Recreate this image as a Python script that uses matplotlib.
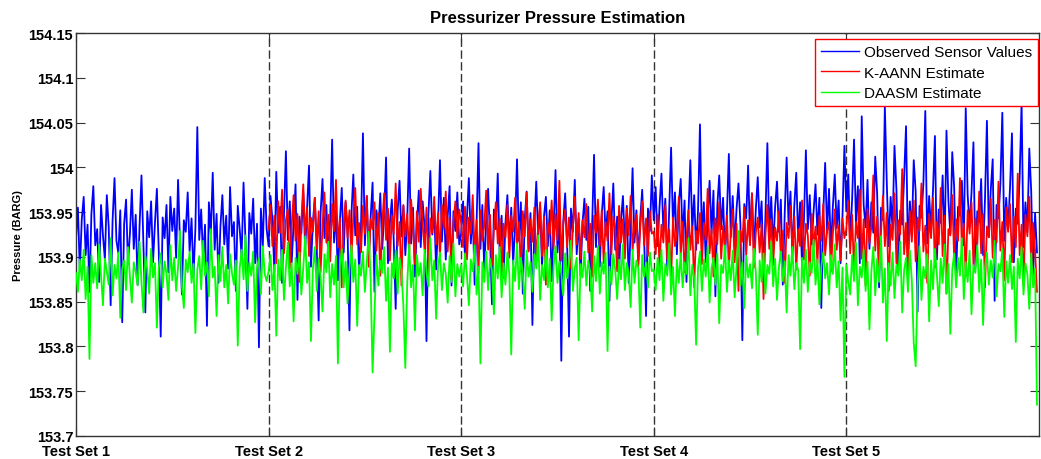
import numpy as np
import matplotlib
matplotlib.use("Agg")
import matplotlib.pyplot as plt

plt.rcParams['font.family'] = ['Liberation Sans', 'DejaVu Sans']

# pressure readings (BARG), 100 samples per test set
obs_set1 = [
    153.921, 153.955, 153.884, 153.942, 153.967, 153.902, 153.936, 153.861, 153.948, 153.979,
    153.913, 153.931, 153.872, 153.958, 153.924, 153.897, 153.969, 153.933, 153.846, 153.941,
    153.988, 153.918, 153.904, 153.952, 153.827, 153.937, 153.964, 153.892, 153.926, 153.975,
    153.909, 153.947, 153.869, 153.934, 153.991, 153.915, 153.838, 153.951, 153.922, 153.962,
    153.894, 153.938, 153.976, 153.905, 153.811, 153.944, 153.921, 153.958, 153.883, 153.967,
    153.929, 153.954, 153.899, 153.986, 153.917, 153.858, 153.941, 153.928, 153.972, 153.906,
    153.943, 153.878, 153.932, 154.045, 153.919, 153.953, 153.897, 153.936, 153.823, 153.961,
    153.925, 153.994, 153.908, 153.948, 153.871, 153.934, 153.969, 153.914, 153.946, 153.887,
    153.978, 153.923, 153.939, 153.862, 153.957, 153.931, 153.901, 153.983, 153.918, 153.842,
    153.949, 153.926, 153.965, 153.893, 153.937, 153.799, 153.954, 153.912, 153.988, 153.931]
obs_set2 = [
    153.912, 153.968, 153.941, 153.883, 153.995, 153.927, 153.956, 153.871, 153.948, 154.018,
    153.919, 153.962, 153.894, 153.937, 153.981, 153.852, 153.945, 153.926, 153.973, 153.908,
    153.954, 154.002, 153.889, 153.938, 153.966, 153.912, 153.829, 153.949, 153.987, 153.921,
    153.958, 153.897, 153.943, 154.031, 153.916, 153.952, 153.874, 153.939, 153.977, 153.905,
    153.961, 153.931, 153.818, 153.947, 153.992, 153.924, 153.956, 153.881, 153.935, 154.038,
    153.913, 153.968, 153.899, 153.944, 153.983, 153.861, 153.952, 153.928, 153.971, 153.909,
    153.946, 154.011, 153.893, 153.939, 153.964, 153.918, 153.842, 153.951, 153.985, 153.923,
    153.957, 153.902, 153.942, 154.021, 153.915, 153.955, 153.878, 153.936, 153.974, 153.911,
    153.962, 153.933, 153.806, 153.948, 153.996, 153.925, 153.953, 153.886, 153.938, 154.008,
    153.917, 153.966, 153.897, 153.945, 153.979, 153.868, 153.951, 153.929, 153.972, 153.914]
obs_set3 = [
    153.926, 153.962, 153.897, 153.944, 153.988, 153.915, 153.951, 153.869, 153.937, 154.027,
    153.909, 153.958, 153.884, 153.941, 153.976, 153.922, 153.847, 153.953, 153.931, 153.993,
    153.902, 153.946, 153.877, 153.938, 153.969, 153.914, 153.955, 153.892, 153.934, 154.009,
    153.918, 153.961, 153.859, 153.942, 153.973, 153.907, 153.949, 153.824, 153.936, 153.984,
    153.921, 153.957, 153.888, 153.945, 153.967, 153.912, 153.952, 153.873, 153.932, 153.997,
    153.905, 153.948, 153.784, 153.939, 153.971, 153.917, 153.811, 153.954, 153.928, 153.986,
    153.903, 153.943, 153.879, 153.937, 153.965, 153.919, 153.956, 153.862, 153.935, 154.014,
    153.911, 153.959, 153.889, 153.947, 153.978, 153.924, 153.951, 153.851, 153.938, 153.982,
    153.908, 153.945, 153.883, 153.941, 153.968, 153.913, 153.957, 153.871, 153.931, 153.999,
    153.916, 153.952, 153.896, 153.943, 153.975, 153.922, 153.834, 153.954, 153.929, 153.991]
obs_set4 = [
    153.941, 153.978, 153.912, 153.956, 153.993, 153.928, 153.965, 153.886, 153.951, 154.022,
    153.934, 153.972, 153.903, 153.958, 153.987, 153.921, 153.963, 153.872, 153.947, 154.008,
    153.929, 153.969, 153.908, 153.952, 154.048, 153.917, 153.961, 153.894, 153.944, 153.985,
    153.926, 153.974, 153.856, 153.957, 153.991, 153.931, 153.966, 153.898, 153.949, 154.015,
    153.922, 153.968, 153.911, 153.954, 153.982, 153.937, 153.807, 153.959, 153.943, 154.002,
    153.919, 153.971, 153.905, 153.953, 153.989, 153.933, 153.962, 153.881, 153.946, 154.027,
    153.924, 153.967, 153.909, 153.955, 153.984, 153.928, 153.964, 153.869, 153.948, 154.011,
    153.936, 153.973, 153.901, 153.958, 153.994, 153.918, 153.961, 153.889, 153.942, 154.019,
    153.931, 153.969, 153.914, 153.951, 153.981, 153.925, 153.966, 153.843, 153.947, 154.005,
    153.927, 153.976, 153.906, 153.956, 153.992, 153.932, 153.963, 153.893, 153.945, 154.024]
obs_set5 = [
    153.951, 153.992, 153.917, 153.964, 154.031, 153.938, 153.979, 153.893, 154.057, 153.958,
    153.933, 153.986, 153.909, 153.961, 153.927, 154.012, 153.971, 153.866, 153.955, 153.941,
    154.068, 153.983, 153.912, 153.967, 153.931, 154.024, 153.976, 153.884, 153.952, 153.936,
    153.989, 154.046, 153.904, 153.962, 153.924, 154.008, 153.973, 153.839, 153.957, 153.944,
    153.981, 154.063, 153.915, 153.968, 153.929, 153.974, 154.035, 153.897, 153.953, 153.938,
    153.991, 153.907, 154.041, 153.963, 153.926, 154.017, 153.977, 153.872, 153.956, 153.946,
    153.985, 153.913, 154.066, 153.969, 153.934, 153.972, 154.028, 153.889, 153.951, 153.939,
    153.987, 153.902, 153.965, 154.052, 153.922, 153.975, 154.009, 153.851, 153.958, 153.943,
    153.982, 154.061, 153.918, 153.966, 153.931, 153.978, 154.038, 153.894, 153.954, 153.937,
    153.989, 154.072, 153.911, 153.961, 153.928, 154.021, 153.973, 153.878, 153.949, 153.905]

# K-AANN estimate, test sets 2-5
kaann_set2 = [
    153.931, 153.958, 153.912, 153.946, 153.893, 153.962, 153.927, 153.975, 153.904, 153.941,
    153.953, 153.887, 153.936, 153.969, 153.918, 153.948, 153.872, 153.939, 153.981, 153.924,
    153.955, 153.901, 153.944, 153.928, 153.966, 153.909, 153.951, 153.883, 153.934, 153.972,
    153.916, 153.947, 153.895, 153.959, 153.929, 153.986, 153.911, 153.943, 153.866, 153.937,
    153.963, 153.921, 153.952, 153.898, 153.945, 153.977, 153.914, 153.938, 153.905, 153.957,
    153.926, 153.968, 153.889, 153.942, 153.931, 153.961, 153.907, 153.949, 153.879, 153.935,
    153.971, 153.919, 153.954, 153.896, 153.946, 153.925, 153.982, 153.912, 153.939, 153.868,
    153.958, 153.923, 153.948, 153.902, 153.964, 153.931, 153.892, 153.951, 153.917, 153.976,
    153.936, 153.908, 153.955, 153.884, 153.943, 153.927, 153.967, 153.914, 153.949, 153.899,
    153.958, 153.932, 153.973, 153.906, 153.944, 153.875, 153.938, 153.962, 153.921, 153.953]
kaann_set3 = [
    153.938, 153.911, 153.956, 153.897, 153.944, 153.926, 153.969, 153.903, 153.941, 153.882,
    153.952, 153.918, 153.935, 153.974, 153.908, 153.947, 153.891, 153.931, 153.961, 153.915,
    153.943, 153.876, 153.937, 153.921, 153.958, 153.899, 153.946, 153.928, 153.966, 153.912,
    153.939, 153.884, 153.951, 153.923, 153.972, 153.906, 153.942, 153.917, 153.955, 153.894,
    153.934, 153.961, 153.901, 153.945, 153.869, 153.938, 153.925, 153.963, 153.909, 153.948,
    153.919, 153.985, 153.896, 153.936, 153.953, 153.911, 153.944, 153.887, 153.932, 153.967,
    153.914, 153.949, 153.898, 153.941, 153.922, 153.959, 153.905, 153.937, 153.878, 153.946,
    153.927, 153.964, 153.912, 153.952, 153.893, 153.939, 153.918, 153.971, 153.903, 153.945,
    153.931, 153.884, 153.957, 153.916, 153.942, 153.898, 153.954, 153.924, 153.968, 153.907,
    153.936, 153.947, 153.889, 153.933, 153.962, 153.913, 153.943, 153.901, 153.951, 153.926]
kaann_set4 = [
    153.928, 153.903, 153.947, 153.889, 153.936, 153.916, 153.958, 153.897, 153.931, 153.874,
    153.944, 153.912, 153.925, 153.967, 153.901, 153.939, 153.883, 153.921, 153.952, 153.908,
    153.934, 153.866, 153.929, 153.915, 153.949, 153.892, 153.938, 153.919, 153.976, 153.904,
    153.931, 153.878, 153.943, 153.914, 153.961, 153.898, 153.935, 153.911, 153.946, 153.887,
    153.926, 153.953, 153.894, 153.937, 153.862, 153.929, 153.917, 153.955, 153.902, 153.941,
    153.913, 153.971, 153.888, 153.927, 153.944, 153.905, 153.936, 153.853, 153.924, 153.958,
    153.909, 153.942, 153.891, 153.933, 153.918, 153.951, 153.899, 153.929, 153.871, 153.938,
    153.921, 153.957, 153.906, 153.945, 153.886, 153.931, 153.912, 153.963, 153.897, 153.937,
    153.924, 153.879, 153.948, 153.911, 153.934, 153.893, 153.946, 153.918, 153.959, 153.902,
    153.929, 153.939, 153.884, 153.926, 153.953, 153.908, 153.935, 153.896, 153.943, 153.921]
kaann_set5 = [
    153.931, 153.962, 153.904, 153.947, 153.883, 153.939, 153.921, 153.975, 153.898, 153.942,
    153.868, 153.953, 153.915, 153.934, 153.991, 153.907, 153.945, 153.886, 153.927, 153.968,
    153.912, 153.949, 153.862, 153.936, 153.919, 153.971, 153.893, 153.941, 153.925, 153.998,
    153.903, 153.938, 153.876, 153.951, 153.917, 153.963, 153.895, 153.944, 153.929, 153.982,
    153.906, 153.935, 153.871, 153.948, 153.921, 153.966, 153.888, 153.939, 153.914, 153.977,
    153.901, 153.946, 153.859, 153.931, 153.924, 153.969, 153.897, 153.942, 153.918, 153.988,
    153.909, 153.937, 153.879, 153.952, 153.926, 153.961, 153.891, 153.943, 153.913, 153.973,
    153.904, 153.948, 153.866, 153.934, 153.922, 153.965, 153.899, 153.941, 153.916, 153.984,
    153.907, 153.939, 153.874, 153.955, 153.928, 153.959, 153.894, 153.945, 153.911, 153.993,
    153.902, 153.936, 153.869, 153.947, 153.923, 153.967, 153.888, 153.938, 153.907, 153.861]

# DAASM estimate
daasm_set1 = [
    153.882, 153.861, 153.897, 153.874, 153.908, 153.853, 153.889, 153.786, 153.902, 153.871,
    153.893, 153.865, 153.914, 153.879, 153.846, 153.898, 153.884, 153.869, 153.921, 153.857,
    153.891, 153.876, 153.905, 153.832, 153.887, 153.896, 153.863, 153.911, 153.878, 153.849,
    153.894, 153.883, 153.868, 153.917, 153.872, 153.838, 153.901, 153.886, 153.859, 153.909,
    153.877, 153.893, 153.821, 153.888, 153.904, 153.866, 153.895, 153.881, 153.852, 153.913,
    153.874, 153.899, 153.862, 153.889, 153.929, 153.868, 153.843, 153.897, 153.883, 153.906,
    153.871, 153.892, 153.815, 153.886, 153.901, 153.864, 153.918, 153.879, 153.894, 153.856,
    153.931, 153.877, 153.889, 153.834, 153.902, 153.873, 153.911, 153.866, 153.891, 153.848,
    153.903, 153.882, 153.869, 153.896, 153.801, 153.887, 153.908, 153.875, 153.924, 153.862,
    153.894, 153.879, 153.906, 153.827, 153.888, 153.899, 153.858, 153.912, 153.881, 153.873]
daasm_set2 = [
    153.884, 153.902, 153.863, 153.891, 153.812, 153.897, 153.874, 153.908, 153.852, 153.889,
    153.916, 153.867, 153.893, 153.828, 153.899, 153.881, 153.905, 153.858, 153.887, 153.923,
    153.871, 153.894, 153.806, 153.886, 153.911, 153.862, 153.898, 153.877, 153.839, 153.903,
    153.883, 153.917, 153.855, 153.892, 153.869, 153.901, 153.781, 153.888, 153.909, 153.866,
    153.895, 153.848, 153.886, 153.913, 153.872, 153.897, 153.823, 153.891, 153.879, 153.906,
    153.861, 153.894, 153.928, 153.875, 153.771, 153.836, 153.902, 153.868, 153.896, 153.882,
    153.911, 153.851, 153.888, 153.794, 153.893, 153.876, 153.907, 153.859, 153.899, 153.884,
    153.845, 153.776, 153.871, 153.914, 153.866, 153.891, 153.818, 153.902, 153.879, 153.893,
    153.857, 153.908, 153.883, 153.867, 153.921, 153.874, 153.896, 153.831, 153.889, 153.905,
    153.863, 153.893, 153.881, 153.849, 153.901, 153.872, 153.915, 153.856, 153.892, 153.878]
daasm_set3 = [
    153.891, 153.867, 153.904, 153.879, 153.846, 153.897, 153.884, 153.913, 153.858, 153.889,
    153.781, 153.894, 153.872, 153.906, 153.863, 153.898, 153.885, 153.836, 153.902, 153.876,
    153.911, 153.855, 153.893, 153.869, 153.905, 153.881, 153.791, 153.896, 153.873, 153.915,
    153.864, 153.899, 153.883, 153.842, 153.907, 153.878, 153.894, 153.861, 153.903, 153.887,
    153.924, 153.852, 153.891, 153.874, 153.908, 153.866, 153.898, 153.829, 153.889, 153.912,
    153.871, 153.895, 153.881, 153.857, 153.904, 153.876, 153.893, 153.918, 153.862, 153.887,
    153.899, 153.807, 153.892, 153.877, 153.906, 153.868, 153.896, 153.884, 153.839, 153.901,
    153.873, 153.912, 153.859, 153.894, 153.881, 153.905, 153.795, 153.889, 153.869, 153.903,
    153.886, 153.853, 153.897, 153.875, 153.914, 153.863, 153.893, 153.882, 153.844, 153.908,
    153.871, 153.896, 153.887, 153.821, 153.902, 153.878, 153.894, 153.866, 153.905, 153.884]
daasm_set4 = [
    153.886, 153.863, 153.899, 153.874, 153.908, 153.851, 153.892, 153.879, 153.915, 153.858,
    153.889, 153.834, 153.897, 153.871, 153.904, 153.866, 153.894, 153.881, 153.921, 153.857,
    153.891, 153.876, 153.802, 153.888, 153.906, 153.862, 153.897, 153.878, 153.912, 153.849,
    153.887, 153.899, 153.869, 153.904, 153.826, 153.891, 153.882, 153.913, 153.861, 153.896,
    153.874, 153.907, 153.855, 153.889, 153.929, 153.868, 153.894, 153.843, 153.901, 153.877,
    153.892, 153.865, 153.909, 153.883, 153.813, 153.896, 153.872, 153.904, 153.859, 153.891,
    153.881, 153.917, 153.867, 153.898, 153.852, 153.889, 153.906, 153.873, 153.895, 153.838,
    153.902, 153.879, 153.911, 153.864, 153.893, 153.885, 153.797, 153.899, 153.871, 153.908,
    153.861, 153.894, 153.882, 153.919, 153.869, 153.897, 153.847, 153.889, 153.905, 153.876,
    153.893, 153.858, 153.902, 153.881, 153.914, 153.866, 153.895, 153.829, 153.888, 153.766]
daasm_set5 = [
    153.891, 153.872, 153.858, 153.902, 153.873, 153.916, 153.846, 153.889, 153.877, 153.908,
    153.862, 153.895, 153.819, 153.884, 153.911, 153.857, 153.898, 153.872, 153.923, 153.849,
    153.887, 153.806, 153.893, 153.868, 153.905, 153.854, 153.891, 153.879, 153.917, 153.838,
    153.885, 153.899, 153.861, 153.907, 153.874, 153.804, 153.778, 153.867, 153.912, 153.852,
    153.889, 153.876, 153.903, 153.828, 153.896, 153.864, 153.909, 153.881, 153.845, 153.898,
    153.871, 153.914, 153.859, 153.892, 153.814, 153.886, 153.904, 153.866, 153.899, 153.879,
    153.921, 153.853, 153.894, 153.872, 153.907, 153.836, 153.891, 153.882, 153.913, 153.861,
    153.897, 153.824, 153.888, 153.905, 153.869, 153.896, 153.877, 153.918, 153.856, 153.892,
    153.884, 153.909, 153.833, 153.895, 153.871, 153.902, 153.864, 153.889, 153.805, 153.898,
    153.876, 153.911, 153.858, 153.893, 153.881, 153.842, 153.904, 153.866, 153.887, 153.735]

set_labels = ['Test Set 1', 'Test Set 2', 'Test Set 3', 'Test Set 4', 'Test Set 5']
yticks = [153.7, 153.75, 153.8, 153.85, 153.9, 153.95, 154.0, 154.05, 154.1, 154.15]

per_set = len(obs_set1)
obs = np.concatenate([obs_set1, obs_set2, obs_set3, obs_set4, obs_set5])
kaann = np.concatenate([kaann_set2, kaann_set3, kaann_set4, kaann_set5])
daasm = np.concatenate([daasm_set1, daasm_set2, daasm_set3, daasm_set4, daasm_set5])

x_obs = np.arange(len(obs)) / per_set
x_kaann = 1 + np.arange(len(kaann)) / per_set
x_daasm = np.arange(len(daasm)) / per_set

fig = plt.figure(figsize=(10.41, 4.6), dpi=100)
ax = fig.add_axes([0.073, 0.05, 0.925, 0.876])

# test set boundaries
for k in range(1, len(set_labels)):
    ax.axvline(k, color='#333333', lw=1.0, ls=(0, (6, 2.5)), zorder=1)

ax.plot(x_obs, obs, color='#0000ff', lw=1.3, label='Observed Sensor Values', zorder=2)
ax.plot(x_kaann, kaann, color='#ff0000', lw=1.3, label='K-AANN Estimate', zorder=3)
ax.plot(x_daasm, daasm, color='#00ff00', lw=1.3, label='DAASM Estimate', zorder=4)

ax.set_xlim(0, 5)
ax.set_ylim(153.7, 154.15)
ax.set_xticks(range(len(set_labels)))
ax.set_xticklabels(set_labels, fontsize=10.5, fontweight='bold')
ax.set_yticks(yticks)
ax.set_yticklabels(['%g' % v for v in yticks], fontsize=10.5, fontweight='bold')
ax.tick_params(direction='in', length=6.5, width=0.8, color='#333333',
               right=True, top=True, pad=2)
ax.tick_params(axis='x', pad=6)
for sp in ax.spines.values():
    sp.set_color('#333333')
    sp.set_linewidth(1.0)

ax.set_title('Pressurizer Pressure Estimation', fontsize=12, fontweight='bold', pad=8)
ax.set_ylabel('Pressure (BARG)', fontsize=8, fontweight='bold', labelpad=4)

leg = ax.legend(loc='upper right', bbox_to_anchor=(0.999, 0.985), borderaxespad=0,
                fontsize=11, fancybox=False, framealpha=1, edgecolor='#ff0000',
                handlelength=2.5, handletextpad=0.3, labelspacing=0.42, borderpad=0.4)
leg.get_frame().set_linewidth(1.0)
for line in leg.get_lines():
    line.set_linewidth(1.0)

fig.savefig('out.png', dpi=100)
